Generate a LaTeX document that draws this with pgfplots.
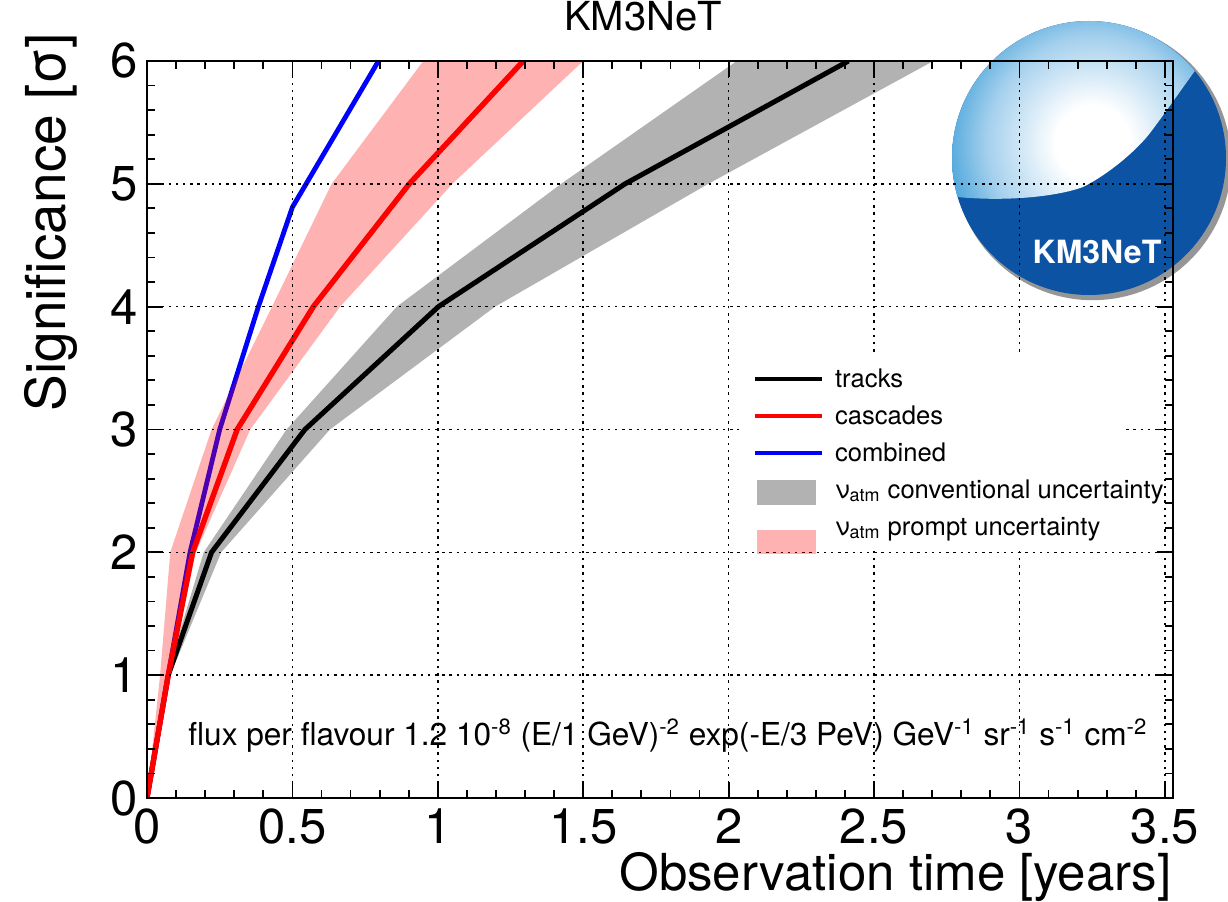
\documentclass[border=0pt]{standalone}
\usepackage{pgfplots}
\pgfplotsset{compat=1.18}
\usepackage{fontspec}
\setmainfont{TeX Gyre Heros}
\definecolor{kmdark}{RGB}{12,84,163}
\definecolor{kmlight}{RGB}{60,158,216}
\definecolor{kmpale}{RGB}{165,208,237}
\pgfdeclareradialshading{kmball}{\pgfpointorigin}{color(0bp)=(white); color(6bp)=(white); color(17bp)=(kmpale); color(25bp)=(kmlight); color(50bp)=(kmlight)}
\pgfplotsset{
  legblack/.style={legend image code/.code={\path[draw=none] (0pt,0pt) -- (33.5pt,0pt); \draw[overlay,black,line width=2pt] (0pt,0pt) -- (33.5pt,0pt);}},
  legred/.style={legend image code/.code={\path[draw=none] (0pt,0pt) -- (33.5pt,0pt); \draw[overlay,red,line width=2pt] (0pt,0pt) -- (33.5pt,0pt);}},
  legblue/.style={legend image code/.code={\path[draw=none] (0pt,0pt) -- (33.5pt,0pt); \draw[overlay,blue,line width=2pt] (0pt,0pt) -- (33.5pt,0pt);}},
  leggrey/.style={legend image code/.code={\path[draw=none] (0pt,0pt) -- (33.5pt,0pt); \path[overlay,draw=none,fill=black!30] (0.85pt,-7.5pt) rectangle (30.5pt,5pt);}},
  legpink/.style={legend image code/.code={\path[draw=none] (0pt,0pt) -- (33.5pt,0pt); \path[overlay,draw=none,fill=red,fill opacity=0.3] (0.85pt,-13.3pt) rectangle (30.5pt,-1.3pt);}},
}
\begin{document}
\begin{tikzpicture}
\begin{axis}[
  at={(73.5pt,51.5pt)}, anchor=south west,
  scale only axis, width=513pt, height=368.5pt,
  xmin=0, xmax=3.528, ymin=0, ymax=6,
  xtick={0,0.5,...,3.5}, ytick={0,1,...,6},
  minor x tick num=4, minor y tick num=4,
  xtick pos=both, ytick pos=both, tick align=inside,
  major tick length=8pt, minor tick length=4pt,
  tick style={black, line width=0.9pt},
  axis line style={black, line width=1.2pt},
  grid=major,
  major grid style={black, line width=0.8pt, dash pattern=on 1.2pt off 2.4pt},
  set layers, axis on top,
  /pgf/number format/assume math mode=true,
  tick label style={font=\fontsize{24.5}{29}\selectfont},
  xticklabel style={anchor=base, yshift=-23pt, inner sep=0pt},
  yticklabel style={anchor=east, inner sep=0pt, xshift=-4.5pt},
  title={KM3NeT},
  title style={at={(axis description cs:0.4834,1.0248)}, anchor=base, inner sep=0pt, font=\fontsize{20}{24}\selectfont},
  xlabel={Observation time [years]},
  xlabel style={at={(axis description cs:0.999,-0.1255)}, anchor=base east, inner sep=0pt, font=\fontsize{25.5}{30}\selectfont},
  ylabel={Significance [σ]},
  ylabel style={at={(axis description cs:-0.079,1.038)}, anchor=base east, inner sep=0pt, font=\fontsize{27.5}{32}\selectfont},
  legend style={at={(axis cs:2.091,3.475)}, anchor=north west, draw=none, fill=none,
    inner sep=0pt, outer sep=0pt, row sep=10.5pt, column sep=6.5pt,
    font=\fontsize{12.8}{15}\selectfont,
    nodes={inner sep=0pt, text height=8pt, text depth=0pt}},
  legend cell align=left,
]
% conventional uncertainty band (tracks)
\addplot[draw=none, fill=black!30, forget plot] coordinates {
 (0,0) (0.068,1) (0.195,2) (0.48,3) (0.859,4) (1.424,5) (2.028,6)
 (2.704,6) (1.93,5) (1.197,4) (0.629,3) (0.255,2) (0.08,1)
} -- cycle;
% tracks
\addplot[black, line width=2.5pt, forget plot] coordinates {
 (0,0) (0.073,1) (0.222,2) (0.543,3) (1.002,4) (1.644,5) (2.412,6)
};
% combined
\addplot[blue, line width=2.4pt, forget plot] coordinates {
 (0,0) (0.073,1) (0.148,2) (0.25,3) (0.383,4) (0.5,4.81) (0.796,6)
};
% prompt uncertainty band (cascades)
\addplot[draw=none, fill=red, fill opacity=0.3, forget plot] coordinates {
 (0,0) (0.045,1) (0.08,2) (0.222,3) (0.43,4) (0.635,5) (0.95,6)
 (1.50,6) (1.05,5) (0.664,4) (0.355,3) (0.168,2) (0.075,1)
} -- cycle;
% cascades
\addplot[red, line width=2.7pt, forget plot] coordinates {
 (0,0) (0.073,1) (0.157,2) (0.31,3) (0.572,4) (0.902,5) (1.294,6)
};
\begin{pgfonlayer}{axis tick labels}
\fill[white] (axis cs:2.036,2.02) rectangle (axis cs:3.363,3.61);
\end{pgfonlayer}
\addlegendimage{legblack}\addlegendentry{tracks}
\addlegendimage{legred}\addlegendentry{cascades}
\addlegendimage{legblue}\addlegendentry{combined}
\addlegendimage{leggrey}\addlegendentry{ν\textsubscript{atm} conventional uncertainty}
\addlegendimage{legpink}\addlegendentry{ν\textsubscript{atm} prompt uncertainty}
\node[anchor=base west, inner sep=0pt, font=\fontsize{15.8}{18}\selectfont] at (axis cs:0.141,0.431)
 {flux per flavour 1.2 10\textsuperscript{-8} (E/1 GeV)\textsuperscript{-2} exp(-E/3 PeV) GeV\textsuperscript{-1} sr\textsuperscript{-1} s\textsuperscript{-1} cm\textsuperscript{-2}};
\end{axis}
% KM3NeT logo (decoration)
\begin{scope}[shift={(544.5pt,371.5pt)}]
\fill[black!75, opacity=0.55] (1.8pt,-1.8pt) circle (69.3pt);
\fill[kmdark] (0,0) circle (68.5pt);
\begin{scope}
\clip (0,0) circle (68.5pt);
\clip (-75pt,-19pt) -- (-66pt,-19.5pt) .. controls (-40pt,-22pt) and (-15pt,-19pt) .. (-3pt,-14.5pt)
  .. controls (10pt,-8pt) and (24pt,4pt) .. (30.5pt,12.5pt)
  .. controls (40pt,25pt) and (50pt,40pt) .. (60pt,53pt) -- (75pt,75pt) -- (-75pt,75pt) -- cycle;
\shade[shading=kmball] (2pt,7.5pt) circle (78pt);
\end{scope}
\node[text=white, font=\bfseries\fontsize{16}{19}\selectfont] at (4pt,-47pt) {KM3NeT};
\end{scope}
\pgfresetboundingbox
\useasboundingbox (0,0) rectangle (614pt,450.5pt);
\end{tikzpicture}
\end{document}
